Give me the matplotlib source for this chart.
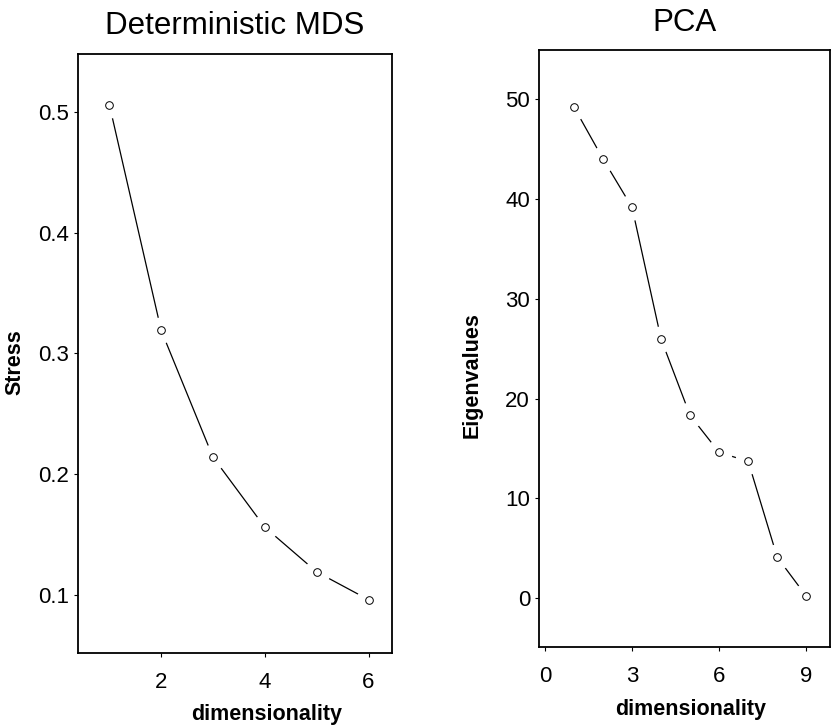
import matplotlib
matplotlib.use("Agg")
import matplotlib.pyplot as plt

plt.rcParams['font.family'] = ['Liberation Sans', 'DejaVu Sans']

# Deterministic MDS
mds_dim = [1, 2, 3, 4, 5, 6]
mds_stress = [0.506, 0.319, 0.214, 0.156, 0.119, 0.096]

# PCA
pca_dim = [1, 2, 3, 4, 5, 6, 7, 8, 9]
pca_eig = [49.2, 44.0, 39.15, 25.95, 18.3, 14.6, 13.7, 4.1, 0.2]


def gapped_line(ax, x, y):
    # line with gaps round each point, like R type="b"
    ax.plot(x, y, color='black', lw=0.9, zorder=1)
    ax.plot(x, y, ls='none', marker='o', ms=19, mfc='white', mec='none', zorder=1.5)
    ax.plot(x, y, ls='none', marker='o', ms=5.5, mfc='white', mec='black', mew=0.7, zorder=3)


def style(ax):
    for s in ax.spines.values():
        s.set_linewidth(1.3)
    ax.tick_params(axis='both', direction='out', length=3, width=0.8, labelsize=16)
    ax.tick_params(axis='y', pad=3.5)
    ax.tick_params(axis='x', pad=11)


fig = plt.figure(figsize=(8.32, 7.27), dpi=100)

ax1 = fig.add_axes([0.094, 0.102, 0.377, 0.824])
gapped_line(ax1, mds_dim, mds_stress)
ax1.set_xlim(0.4, 6.45)
ax1.set_ylim(0.052, 0.548)
ax1.set_xticks([2, 4, 6])
ax1.set_yticks([0.1, 0.2, 0.3, 0.4, 0.5])
style(ax1)
ax1.set_title('Deterministic MDS', fontsize=22.5, pad=14)
ax1.set_ylabel('Stress', fontsize=15.5, fontweight='bold')
ax1.set_xlabel('dimensionality', fontsize=15.5, fontweight='bold')
ax1.yaxis.set_label_coords(-0.168, 0.486)
ax1.xaxis.set_label_coords(0.6, -0.085)

ax2 = fig.add_axes([0.648, 0.110, 0.349, 0.821])
gapped_line(ax2, pca_dim, pca_eig)
ax2.set_xlim(-0.2, 9.8)
ax2.set_ylim(-4.9, 54.9)
ax2.set_xticks([0, 3, 6, 9])
ax2.set_yticks([0, 10, 20, 30, 40, 50])
style(ax2)
ax2.set_title('PCA', fontsize=22.5, pad=13.5)
ax2.set_ylabel('Eigenvalues', fontsize=15.5, fontweight='bold')
ax2.set_xlabel('dimensionality', fontsize=15.5, fontweight='bold')
ax2.yaxis.set_label_coords(-0.196, 0.456)
ax2.xaxis.set_label_coords(0.52, -0.087)

fig.savefig('out.png', dpi=100)
